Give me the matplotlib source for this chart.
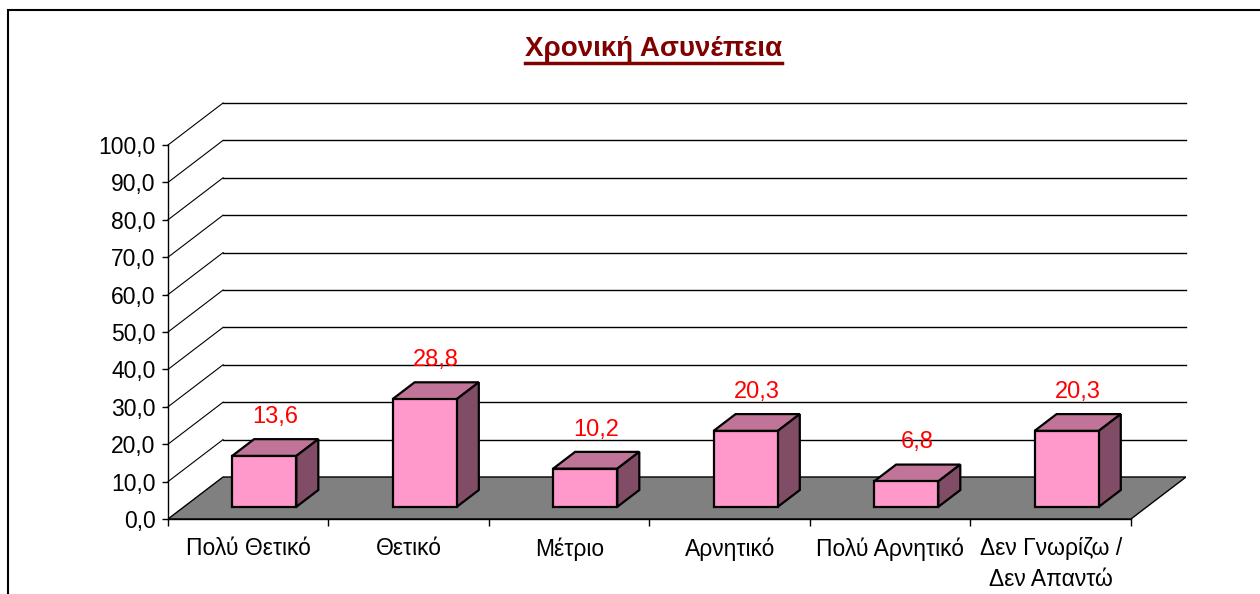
import matplotlib.pyplot as plt
from matplotlib.patches import Polygon, Rectangle
from matplotlib.lines import Line2D

plt.rcParams['font.family'] = ['Liberation Sans', 'DejaVu Sans']

title = 'Χρονική Ασυνέπεια'
categories = ['Πολύ Θετικό', 'Θετικό', 'Μέτριο', 'Αρνητικό', 'Πολύ Αρνητικό',
              'Δεν Γνωρίζω /\nΔεν Απαντώ']
values = [13.6, 28.8, 10.2, 20.3, 6.8, 20.3]
yticks = [0, 10, 20, 30, 40, 50, 60, 70, 80, 90, 100]

# depth of the 3d box in data units (front plane -> back wall)
DX = 0.343
DY = 11.23
# bar occupies this slice of the depth and of the category width
D0, D1 = 0.29, 0.69
W0, W1 = 0.3, 0.7

front_c = '#FF99CC'
top_c = '#C07598'
side_c = '#804C66'

fig = plt.figure(figsize=(12.6, 5.94), dpi=100)
ax = fig.add_axes([168 / 1260, 75 / 594, 1018 / 1260, 416 / 594])
n = len(categories)
ax.set_xlim(0, n + DX)
ax.set_ylim(0, yticks[-1] + DY)
ax.patch.set_visible(False)

# floor
floor = Polygon([(0, 0), (n, 0), (n + DX, DY), (DX, DY)], closed=True,
                facecolor='#808080', edgecolor='black', lw=1, zorder=1)
ax.add_patch(floor)

# back wall grid + left wall diagonals
for v in yticks[1:]:
    ax.plot([DX, n + DX], [v + DY, v + DY], color='black', lw=1, zorder=1, clip_on=False)
    ax.plot([0, DX], [v, v + DY], color='black', lw=0.8, zorder=1, clip_on=False)

# 3d bars
for i, h in enumerate(values):
    xl = i + W0
    xr = i + W1
    fx0, fx1 = xl + D0 * DX, xr + D0 * DX
    fy0 = D0 * DY
    bx0, bx1 = xl + D1 * DX, xr + D1 * DX
    by0 = D1 * DY
    front = Rectangle((fx0, fy0), fx1 - fx0, h, facecolor=front_c,
                      edgecolor='black', lw=1.6, zorder=4, joinstyle='miter')
    top = Polygon([(fx0, fy0 + h), (fx1, fy0 + h), (bx1, by0 + h), (bx0, by0 + h)],
                  closed=True, facecolor=top_c, edgecolor='black', lw=1.6, zorder=3)
    side = Polygon([(fx1, fy0), (fx1, fy0 + h), (bx1, by0 + h), (bx1, by0)],
                   closed=True, facecolor=side_c, edgecolor='black', lw=1.6, zorder=3)
    ax.add_patch(top)
    ax.add_patch(side)
    ax.add_patch(front)
    dm = (D0 + D1) / 2
    ax.annotate(f'{h:.1f}'.replace('.', ','), xy=(i + 0.5 + dm * DX, h + dm * DY),
                xytext=(0, 22), textcoords='offset points', ha='center', va='center',
                color='red', fontsize=17, zorder=5)

# axes
for s in ['top', 'right']:
    ax.spines[s].set_visible(False)
ax.spines['left'].set_bounds(0, yticks[-1])
ax.spines['bottom'].set_bounds(0, n)
for s in ['left', 'bottom']:
    ax.spines[s].set_color('black')
    ax.spines[s].set_linewidth(1)

ax.set_yticks(yticks)
ax.set_yticklabels([f'{v:.1f}'.replace('.', ',') for v in yticks])
ax.set_xticks(range(n + 1))
ax.set_xticklabels([])
ax.set_xticks([i + 0.5 for i in range(n)], minor=True)
ax.set_xticklabels(categories, minor=True, linespacing=1.45)
ax.tick_params(axis='y', length=4, width=1, pad=5, labelsize=16.5, colors='black')
ax.tick_params(axis='x', which='major', length=5, width=1)
ax.tick_params(axis='x', which='minor', length=0, pad=13, labelsize=16.5)

# title with underline
t = fig.text(0.5187, 0.917, title, ha='center', va='center', fontsize=20,
             fontweight='bold', color='#800000')
fig.canvas.draw()
bb = t.get_window_extent(fig.canvas.get_renderer()).transformed(fig.transFigure.inverted())
fig.add_artist(Line2D([bb.x0, bb.x1], [1 - 63 / 594, 1 - 63 / 594], color='#800000', lw=2.5))

# chart area frame (continues beyond the crop)
fig.add_artist(Rectangle((8 / 1260, -0.2), 1.1, 1.2 - 10 / 594, fill=False,
                         edgecolor='black', lw=1.5, transform=fig.transFigure, clip_on=False))

fig.savefig('out.png', dpi=100)
